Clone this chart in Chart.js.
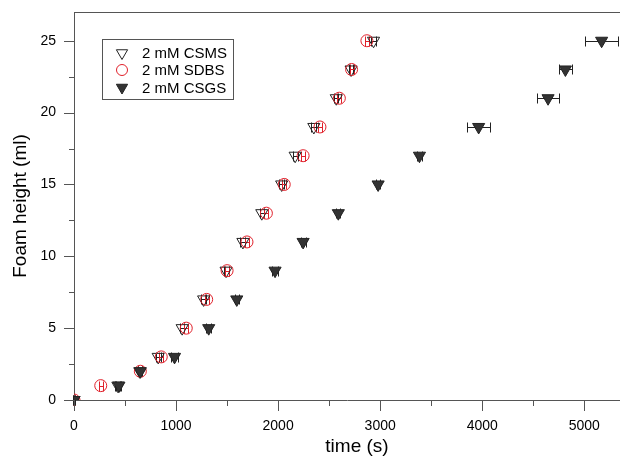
<!DOCTYPE html>
<html>
<head>
<meta charset="utf-8">
<script src="https://cdn.jsdelivr.net/npm/chart.js@4/dist/chart.umd.min.js"></script>
<style>
  html, body { margin: 0; padding: 0; background: #fff; }
  #wrap { width: 620px; height: 457px; position: relative; }
</style>
</head>
<body>
<div id="wrap"><canvas id="c"></canvas></div>
<script>
// Foam height levels (ml), shared by all series
const heights = [0, 1, 2, 3, 5, 7, 9, 11, 13, 15, 17, 19, 21, 23, 25];

// Time (s) at which each height was reached
const csmsTime = [0, 430, 645, 825, 1060, 1270, 1490, 1655, 1840, 2035, 2167, 2350, 2570, 2715, 2935];
const sdbsTime = [0, 262, 650, 855, 1100, 1300, 1500, 1695, 1885, 2060, 2245, 2410, 2600, 2720, 2870];
const csgsTime = [0, 440, 650, 985, 1320, 1595, 1970, 2245, 2590, 2980, 3385, 3965, 4645, 4815, 5170];

// Horizontal error (s, +/-)
const csmsErr = [10, 25, 20, 25, 20, 25, 25, 25, 20, 25, 25, 25, 20, 20, 25];
const sdbsErr = [10, 20, 20, 20, 20, 20, 20, 20, 20, 20, 20, 20, 20, 20, 20];
const csgsErr = [10, 25, 20, 30, 25, 20, 30, 25, 20, 20, 25, 115, 110, 65, 165];

const seriesNames = ['2 mM CSMS', '2 mM SDBS', '2 mM CSGS'];

// Tick positions (major ones get labels)
const xTickValues = [0, 500, 1000, 1500, 2000, 2500, 3000, 3500, 4000, 4500, 5000];
const yTickValues = [0, 2.5, 5, 7.5, 10, 12.5, 15, 17.5, 20, 22.5, 25];
const xTicksMajor = 1000;
const yTicksMajor = 5;
const xMax = 5350;
const yMax = 27;

const FONT = '"Liberation Sans", Arial, Helvetica, sans-serif';
const AXIS_COLOR = '#555';

function toPoints(times) {
    return times.map((t, i) => ({ x: t, y: heights[i] }));
}

// Horizontal error bars with end caps, drawn under the markers.
const errorBars = {
    id: 'errorBars',
    beforeDatasetsDraw(chart) {
        const ctx = chart.ctx;
        const xs = chart.scales.x;
        const ys = chart.scales.y;
        chart.data.datasets.forEach(ds => {
            if (!ds.xErr) return;
            ctx.save();
            ctx.strokeStyle = ds.errColor;
            ctx.lineWidth = 1;
            ds.data.forEach((p, i) => {
                const e = ds.xErr[i];
                const x0 = Math.round(xs.getPixelForValue(p.x - e)) + 0.5;
                const x1 = Math.round(xs.getPixelForValue(p.x + e)) + 0.5;
                const y = Math.round(ys.getPixelForValue(p.y)) + 0.5;
                ctx.beginPath();
                ctx.moveTo(x0, y); ctx.lineTo(x1, y);
                ctx.moveTo(x0, y - 5); ctx.lineTo(x0, y + 5);
                ctx.moveTo(x1, y - 5); ctx.lineTo(x1, y + 5);
                ctx.stroke();
            });
            ctx.restore();
        });
    }
};

// Frame top line, major/minor tick marks, axis titles and boxed legend.
const decorations = {
    id: 'decorations',
    afterDraw(chart) {
        const ctx = chart.ctx;
        const area = chart.chartArea;
        const xs = chart.scales.x;
        const ys = chart.scales.y;
        ctx.save();
        ctx.strokeStyle = AXIS_COLOR;
        ctx.lineWidth = 1;
        ctx.beginPath();
        ctx.moveTo(area.left, Math.round(area.top) + 0.5);
        ctx.lineTo(area.right, Math.round(area.top) + 0.5);

        xs.ticks.forEach(t => {
            const px = Math.round(xs.getPixelForValue(t.value)) + 0.5;
            const len = t.value % xTicksMajor === 0 ? 11 : 6;
            ctx.moveTo(px, area.bottom);
            ctx.lineTo(px, area.bottom + len);
        });
        ys.ticks.forEach(t => {
            const py = Math.round(ys.getPixelForValue(t.value)) + 0.5;
            const len = t.value % yTicksMajor === 0 ? 10 : 5;
            ctx.moveTo(area.left, py);
            ctx.lineTo(area.left - len, py);
        });
        ctx.stroke();

        // axis titles
        ctx.fillStyle = '#000';
        ctx.font = '19px ' + FONT;
        ctx.textAlign = 'center';
        ctx.textBaseline = 'middle';
        ctx.fillText('time (s)', 357, 447);
        ctx.translate(21, 206);
        ctx.rotate(-Math.PI / 2);
        ctx.fillText('Foam height (ml)', 0, 0);
        ctx.restore();

        // legend box
        ctx.save();
        ctx.strokeStyle = AXIS_COLOR;
        ctx.lineWidth = 1;
        ctx.strokeRect(102.5, 39.5, 131, 60);
        ctx.font = '15px ' + FONT;
        ctx.textAlign = 'left';
        ctx.textBaseline = 'middle';
        const rows = [53, 70, 87.5];
        chart.data.datasets.forEach((ds, i) => {
            ctx.fillStyle = ds.backgroundColor;
            ctx.strokeStyle = ds.borderColor;
            ctx.lineWidth = 1;
            Chart.helpers.drawPoint(ctx, {
                pointStyle: ds.pointStyle,
                radius: ds.pointStyle === 'circle' ? 5.5 : 6.5,
                rotation: ds.rotation || 0,
                borderWidth: 1,
            }, 122, rows[i]);
            ctx.fillStyle = '#000';
            ctx.fillText(seriesNames[i], 142, rows[i] + 1);
        });
        ctx.restore();
    }
};

const ctx = document.getElementById('c');
new Chart(ctx, {
    type: 'scatter',
    data: {
        datasets: [
            {
                label: seriesNames[0],
                data: toPoints(csmsTime),
                xErr: csmsErr,
                errColor: '#222',
                pointStyle: 'triangle',
                rotation: 180,
                pointRadius: 7,
                borderWidth: 1,
                borderColor: '#222',
                backgroundColor: 'rgba(255,255,255,0)',
                order: 2,
            },
            {
                label: seriesNames[1],
                data: toPoints(sdbsTime),
                xErr: sdbsErr,
                errColor: '#e0202a',
                pointStyle: 'circle',
                pointRadius: 6,
                borderWidth: 1,
                borderColor: '#e0202a',
                backgroundColor: 'rgba(255,255,255,0)',
                order: 1,
            },
            {
                label: seriesNames[2],
                data: toPoints(csgsTime),
                xErr: csgsErr,
                errColor: '#222',
                pointStyle: 'triangle',
                rotation: 180,
                pointRadius: 7,
                borderWidth: 1,
                borderColor: '#222',
                backgroundColor: '#333',
                order: 0,
            },
        ],
    },
    options: {
        responsive: true,
        maintainAspectRatio: false,
        animation: false,
        // the source plot is cropped at the right edge of the picture
        layout: { autoPadding: false, padding: { top: 12, left: 0, right: 0, bottom: 0 } },
        plugins: {
            legend: { display: false },
            tooltip: { enabled: false },
        },
        scales: {
            x: {
                type: 'linear',
                min: 0,
                max: xMax,
                grid: { display: false, drawTicks: false },
                border: { display: true, color: AXIS_COLOR, width: 1 },
                afterBuildTicks: axis => { axis.ticks = xTickValues.map(value => ({ value })); },
                ticks: {
                    autoSkip: false,
                    maxRotation: 0,
                    padding: 18,
                    color: '#000',
                    font: { size: 14, family: FONT },
                    callback: v => (v % xTicksMajor === 0 ? String(v) : ''),
                },
                afterFit: scale => {
                    scale.height = 57;
                    scale.paddingLeft = 0;
                    scale.paddingRight = 0;
                },
            },
            y: {
                type: 'linear',
                min: 0,
                max: yMax,
                grid: { display: false, drawTicks: false },
                border: { display: true, color: AXIS_COLOR, width: 1 },
                afterBuildTicks: axis => { axis.ticks = yTickValues.map(value => ({ value })); },
                ticks: {
                    autoSkip: false,
                    padding: 18,
                    color: '#000',
                    font: { size: 14, family: FONT },
                    callback: v => (v % yTicksMajor === 0 ? String(v) : ''),
                },
                afterFit: scale => {
                    scale.width = 74;
                    scale.paddingTop = 0;
                    scale.paddingBottom = 0;
                },
            },
        },
    },
    plugins: [errorBars, decorations],
});
</script>
</body>
</html>
